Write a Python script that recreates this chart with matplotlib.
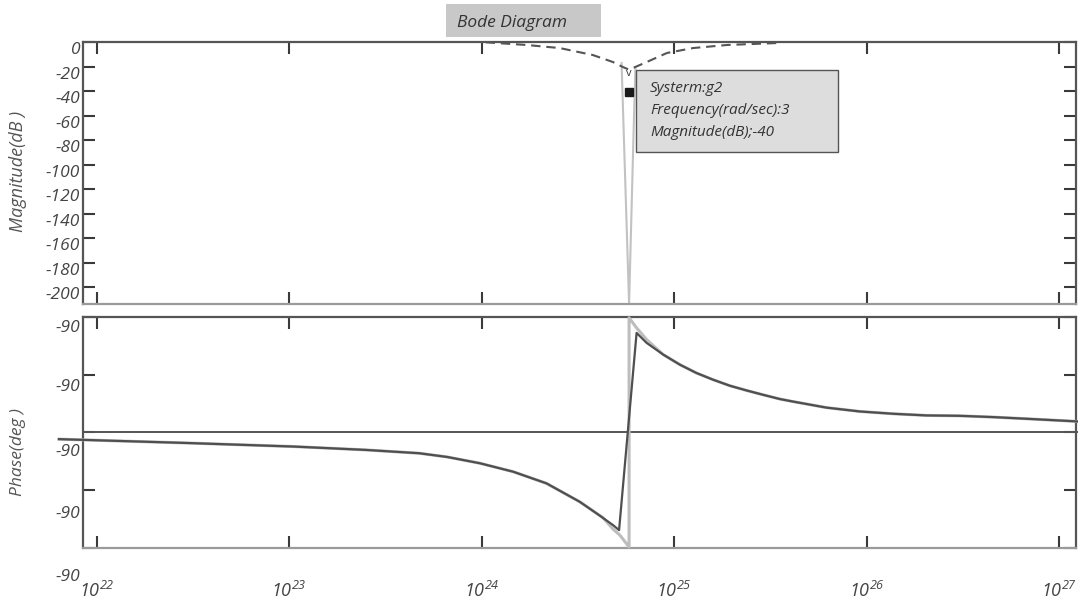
import numpy as np
import matplotlib
matplotlib.use("Agg")
import matplotlib.pyplot as plt
import matplotlib.transforms as mtransforms

plt.rcParams['font.family'] = ['Open Sans', 'DejaVu Sans']
plt.rcParams['font.style'] = 'italic'
plt.rcParams['mathtext.fontset'] = 'custom'
plt.rcParams['mathtext.it'] = 'Open Sans:italic'
plt.rcParams['mathtext.rm'] = 'Open Sans:italic'
plt.rcParams['mathtext.default'] = 'it'

# ---------------- data (log10 of frequency) ----
mag_dash_exp = [24.02, 24.234, 24.405, 24.577, 24.681, 24.733, 24.76, 24.785,
                24.858, 24.962, 25.097, 25.273, 25.533, 25.548]
mag_dash_db = [0.0, -2.2, -4.7, -10.4, -16.1, -20.2, -22.0, -21.0,
               -16.0, -8.7, -4.7, -2.2, -0.6, 0.0]

mag_notch_exp = [24.726, 24.734, 24.765, 24.791, 24.798]
mag_notch_db = [-16.9, -57.7, -213.6, -57.7, -20.2]

phase_dark_exp = [21.804, 22.469, 23.026, 23.397, 23.675, 23.82, 23.990, 24.163,
                  24.336, 24.509, 24.596, 24.682, 24.713, 24.804, 24.856, 24.942,
                  25.029, 25.115, 25.201, 25.288, 25.375, 25.461, 25.548, 25.617,
                  25.790, 25.963, 26.136, 26.309, 26.482, 26.655, 26.829, 27.095]
phase_dark_deg = [-5.3, -8.3, -11.1, -13.7, -16.3, -19.2, -24.1, -30.7,
                  -39.8, -54.2, -63.2, -72.4, -76.3, 77.6, 69.8, 60.7,
                  52.8, 46.3, 41.1, 36.4, 32.7, 29.3, 26.0, 24.0,
                  19.3, 16.3, 14.5, 13.2, 12.9, 11.9, 10.6, 8.5]

phase_gray_exp = [21.804, 22.469, 23.026, 23.397, 23.675, 23.82, 23.990, 24.163,
                  24.336, 24.509, 24.596, 24.629, 24.682, 24.717, 24.765, 24.765,
                  24.804, 24.856, 24.942, 25.029, 25.115, 25.201, 25.288, 25.375,
                  25.461, 25.548, 25.617, 25.790, 25.963, 26.136, 26.309, 26.482,
                  26.655, 26.829, 27.095]
phase_gray_deg = [-5.3, -8.3, -11.1, -13.7, -16.3, -19.2, -24.1, -30.7,
                  -39.8, -54.2, -63.2, -66.5, -75.5, -80.2, -89.4, 89.4,
                  81.5, 72.4, 60.7, 52.8, 46.3, 41.1, 36.4, 32.7,
                  29.3, 26.0, 24.0, 19.3, 16.3, 14.5, 13.2, 12.9,
                  11.9, 10.6, 8.5]

marker_exp = 24.764
marker_db = -40.6

mag_ticks = [0, -20, -40, -60, -80, -100, -120, -140, -160, -180, -200]
phase_ticks = [90, 45, 0, -45, -90]
phase_ticklabels = ['-90', '-90', '-90', '-90', '-90']
x_tick_exps = [22, 23, 24, 25, 26, 27]

title_text = 'Bode Diagram'
info_lines = ['Systerm:g2', 'Frequency(rad/sec):3', 'Magnitude(dB);-40']

# ---------------- figure ------------------------------------------------------
W, H = 1078, 606
fig = plt.figure(figsize=(W / 100, H / 100), dpi=100)

def fx(px):
    return px / W

def fy(py):
    return 1 - py / H

L, R = 83, 1076
ax1 = fig.add_axes([fx(L), fy(304), fx(R) - fx(L), fy(42.3) - fy(304)])
ax2 = fig.add_axes([fx(L), fy(547.7), fx(R) - fx(L), fy(317) - fy(547.7)])

xmin, xmax = 10 ** 21.929, 10 ** 27.086
dark = '#555555'
tickc = '#444444'

for ax in (ax1, ax2):
    ax.set_xscale('log')
    ax.set_xlim(xmin, xmax)
    ax.set_xticks([10.0 ** e for e in x_tick_exps])
    ax.xaxis.set_minor_locator(matplotlib.ticker.NullLocator())
    ax.tick_params(axis='both', which='major', direction='in', length=8.5,
                   width=1.5, color='#3a3a3a', top=True, right=True,
                   labelsize=12.5, labelcolor=tickc)
    ax.tick_params(axis='y', pad=2)
    for s in ('top', 'left', 'right'):
        ax.spines[s].set_color(dark)
        ax.spines[s].set_linewidth(1.6)
    ax.spines['bottom'].set_color('#9a9a9a')
    ax.spines['bottom'].set_linewidth(1.6)

# magnitude
ax1.set_ylim(-213.6, 0)
ax1.set_yticks(mag_ticks)
ax1.set_yticklabels([str(t) for t in mag_ticks])
ax1.tick_params(axis='x', labelbottom=False)
for lab in ax1.get_yticklabels():
    lab.set_transform(lab.get_transform() +
                      mtransforms.ScaledTranslation(0, -6 / 100, fig.dpi_scale_trans))

ax1.plot(np.power(10.0, mag_notch_exp), mag_notch_db, color='#c2c2c2', lw=1.5,
         zorder=2)
ld, = ax1.plot(np.power(10.0, mag_dash_exp), mag_dash_db, color=dark, lw=1.5,
               zorder=3, clip_on=False)
ld.set_dashes([4.5, 2.8])
ax1.plot([10 ** marker_exp], [marker_db], marker='s', ms=6, color='#1a1a1a',
         mec='#1a1a1a', zorder=5)
ax1.text(10 ** marker_exp, marker_db + 15, 'v', ha='center', va='center',
         fontsize=8, style='normal', color='#333333', zorder=5)

fig.text(fx(18), fy(171), 'Magnitude(dB )', rotation=90, ha='center',
         va='center', fontsize=13, color=dark)

# info box
fig.patches.append(matplotlib.patches.Rectangle((fx(636), fy(152)),
                   fx(838) - fx(636), fy(70) - fy(152), transform=fig.transFigure,
                   facecolor='#dcdddc', edgecolor='#555555', lw=1.0, zorder=10))
for i, t in enumerate(info_lines):
    fig.text(fx(650), fy(88 + 22 * i), t, ha='left', va='center', fontsize=11,
             color='#333333', zorder=11)

# title box
fig.patches.append(matplotlib.patches.Rectangle((fx(446), fy(37)),
                   fx(601) - fx(446), fy(4) - fy(37), transform=fig.transFigure,
                   facecolor='#c8c8c8', edgecolor='none', zorder=10))
fig.text(fx(457), fy(23), title_text, ha='left', va='center', fontsize=12.5,
         color='#333333', zorder=11)

# phase
ax2.set_ylim(-90, 90)
ax2.set_yticks(phase_ticks)
ax2.set_yticklabels(phase_ticklabels)
offsets = [9.5, 10, 17.5, 22, 27.5]
for lab, off in zip(ax2.get_yticklabels(), offsets):
    lab.set_transform(lab.get_transform() +
                      mtransforms.ScaledTranslation(0, -off / 100, fig.dpi_scale_trans))
ax2.set_xticklabels([r'$10^{%d}$' % e for e in x_tick_exps])
ax2.tick_params(axis='x', pad=24, labelsize=13)

ax2.axhline(0, color=dark, lw=1.4, zorder=2, xmax=1.002, clip_on=False)
ax2.plot(np.power(10.0, phase_gray_exp), phase_gray_deg, color='#bdbdbd', lw=2.2,
         zorder=3, clip_on=False)
ax2.plot(np.power(10.0, phase_dark_exp), phase_dark_deg, color='#4f4f4f', lw=1.6,
         zorder=4, clip_on=False)

fig.text(fx(18), fy(452), 'Phase(deg )', rotation=90, ha='center', va='center',
         fontsize=12.5, color=dark)

fig.savefig('out.png', dpi=100)
